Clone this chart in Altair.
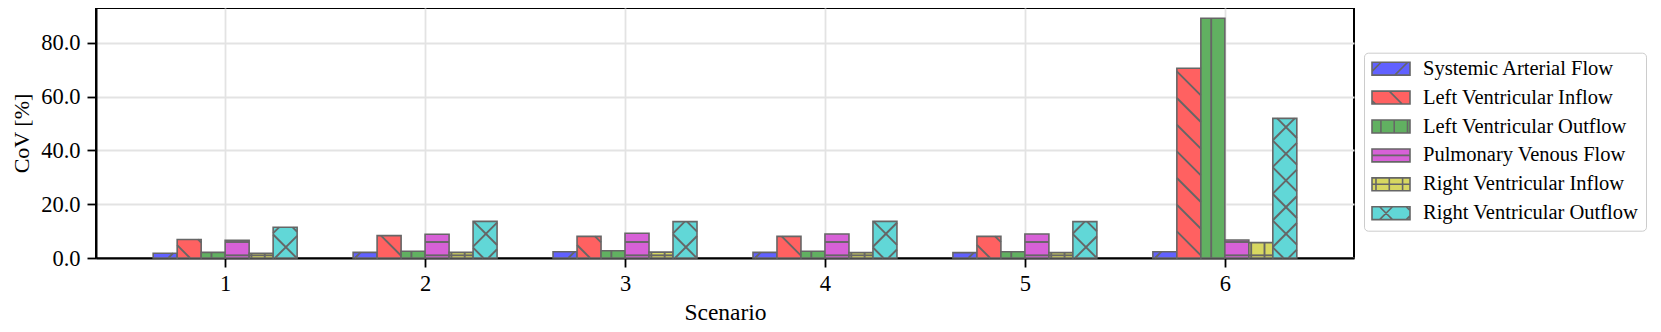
import altair as alt
import pandas as pd

# ---------------- data ----------------
scenarios = [1, 2, 3, 4, 5, 6]
series = [
    "Systemic Arterial Flow",
    "Left Ventricular Inflow",
    "Left Ventricular Outflow",
    "Pulmonary Venous Flow",
    "Right Ventricular Inflow",
    "Right Ventricular Outflow",
]
systemic_arterial_flow = [1.75, 2.1, 2.35, 2.1, 2.0, 2.35]
left_ventricular_inflow = [6.9, 8.3, 8.05, 8.05, 8.05, 70.5]
left_ventricular_outflow = [2.1, 2.5, 2.7, 2.5, 2.35, 89.1]
pulmonary_venous_flow = [6.6, 8.8, 9.2, 8.9, 8.9, 6.7]
right_ventricular_inflow = [1.75, 2.1, 2.2, 2.0, 2.0, 5.7]
right_ventricular_outflow = [11.4, 13.6, 13.5, 13.6, 13.5, 51.9]
y_ticks = [0, 20, 40, 60, 80]

# ---------------- styles ----------------
colors = ["#6161ff", "#ff6161", "#61b061", "#d761d7", "#d7d761", "#61d7d7"]
hatches = ["/", "\\", "|", "-", "+", "x"]
RECT = "M-1,-0.34L1,-0.34L1,0.34L-1,0.34Z"
legend_paths = [
    RECT + "M-1,0.14L-0.52,-0.34M0.2,0.34L0.88,-0.34",
    RECT + "M-1,0.15L-0.81,0.34M-0.09,-0.34L0.59,0.34",
    RECT + "M-0.53,-0.34L-0.53,0.34M0.17,-0.34L0.17,0.34M0.87,-0.34L0.87,0.34",
    RECT + "M-1,0L1,0",
    RECT + "M-0.79,-0.34L-0.79,0.34M-0.09,-0.34L-0.09,0.34M0.61,-0.34L0.61,0.34M-1,0L1,0",
    RECT + "M-0.6,0.34L0.08,-0.34M-0.6,-0.34L0.08,0.34M0.8,0.34L1,0.14M0.8,-0.34L1,-0.14",
]

all_values = [
    systemic_arterial_flow,
    left_ventricular_inflow,
    left_ventricular_outflow,
    pulmonary_venous_flow,
    right_ventricular_inflow,
    right_ventricular_outflow,
]
rows = []
for i, name in enumerate(series):
    for sc, v in zip(scenarios, all_values[i]):
        rows.append({"scenario": sc, "series": name, "idx": i, "value": v, "hatch": hatches[i]})
df = pd.DataFrame(rows)

# ---------------- layout constants ----------------
W, H = 1258, 250
X0, X1 = 0.354, 6.646
YMAX = 92.9
BW = 0.12
PX = W / (X1 - X0)
PY = H / YMAX
BWP = BW * PX
S = 26.67   # diagonal hatch period (px)
P = 13.33   # straight hatch period (px)
C_UP, C_DOWN, C_VERT, C_HORIZ = 7.7, 14.0, 8.8, 2.67

FONT = "Liberation Serif"
EDGE = "#666666"

xscale = alt.Scale(domain=[X0, X1], nice=False, zero=False)
yscale = alt.Scale(domain=[0, YMAX], nice=False, zero=False)

xaxis = alt.Axis(
    values=scenarios, format="d", title="Scenario",
    labelFont=FONT, labelFontSize=22.5, labelColor="black", labelPadding=5,
    tickSize=9, tickWidth=1.8, tickColor="black",
    domainColor="black", domainWidth=2,
    grid=True, gridColor="#e3e3e3", gridWidth=1.8,
    titleFont=FONT, titleFontSize=23.5, titleFontWeight="normal", titleColor="black",
    titleBaseline="alphabetic", titleY=61, titleX=W / 2,
)
yaxis = alt.Axis(
    values=y_ticks, format=".1f", title="CoV [%]",
    labelFont=FONT, labelFontSize=22.5, labelColor="black", labelPadding=7,
    tickSize=9, tickWidth=1.8, tickColor="black",
    domainColor="black", domainWidth=2,
    grid=True, gridColor="#e3e3e3", gridWidth=1.8,
    titleFont=FONT, titleFontSize=22, titleFontWeight="normal", titleColor="black",
    titleAngle=270, titleBaseline="alphabetic", titleAlign="center",
    titleX=-68, titleY=H / 2,
)

leg = alt.Legend(
    title=None, orient="none", legendX=1268, legendY=44.7,
    labelFont=FONT, labelFontSize=20.5, labelColor="black", labelLimit=400,
    symbolSize=1444, symbolStrokeWidth=1.6, symbolStrokeColor=EDGE,
    clipHeight=18, rowPadding=7.9, labelOffset=12,
    padding=7, strokeColor="#cccccc", cornerRadius=4, fillColor="white",
)

color = alt.Color("series:N", scale=alt.Scale(domain=series, range=colors), legend=leg, title=None)

base = alt.Chart(df).transform_calculate(
    xl=f"datum.scenario + (datum.idx - 3) * {BW}",
    xr=f"datum.scenario + (datum.idx - 2) * {BW}",
)

bars = base.mark_rect(stroke=EDGE, strokeWidth=1.6).encode(
    x=alt.X("xl:Q", scale=xscale, axis=xaxis),
    x2="xr:Q",
    y=alt.Y("value:Q", scale=yscale, axis=yaxis),
    y2=alt.datum(0),
    color=color,
)

hatch_layer = (
    base.transform_calculate(
        lx=f"(datum.xl - {X0}) * {PX}",
        h=f"datum.value * {PY}",
        kinds="datum.hatch == '/' ? ['up'] : datum.hatch == 'x' ? ['up', 'down'] : "
              "datum.hatch == '|' ? ['vert'] : datum.hatch == '-' ? ['horiz'] : "
              "datum.hatch == '+' ? ['vert', 'horiz'] : ['down']",
        ks="sequence(0, 16)",
    )
    .transform_flatten(["kinds"], as_=["kind"])
    .transform_flatten(["ks"], as_=["k"])
    .transform_calculate(
        d=f"datum.kind == 'up' ? ((datum.lx + {C_UP}) % {S} + {S}) % {S} + (datum.k - 2) * {S} : "
          f"datum.kind == 'down' ? (({C_DOWN} - datum.lx) % {S} + {S}) % {S} + (datum.k - 1) * {S} : "
          f"datum.kind == 'vert' ? (({C_VERT} - datum.lx) % {P} + {P}) % {P} + datum.k * {P} : "
          f"{C_HORIZ} + datum.k * {P}"
    )
    .transform_calculate(
        u1="datum.kind == 'up' ? max(0, -datum.d) : datum.kind == 'down' ? max(0, datum.d - datum.h) : "
           "datum.kind == 'vert' ? datum.d : 0",
        u2=f"datum.kind == 'up' ? min({BWP}, datum.h - datum.d) : datum.kind == 'down' ? min({BWP}, datum.d) : "
           f"datum.kind == 'vert' ? datum.d : {BWP}",
    )
    .transform_calculate(
        v1="datum.kind == 'up' ? datum.u1 + datum.d : datum.kind == 'down' ? datum.d - datum.u1 : "
           "datum.kind == 'vert' ? 0 : datum.d",
        v2="datum.kind == 'up' ? datum.u2 + datum.d : datum.kind == 'down' ? datum.d - datum.u2 : "
           "datum.kind == 'vert' ? datum.h : datum.d",
        ok=f"datum.kind == 'vert' ? (datum.d > 1 && datum.d < {BWP} - 1 && datum.h > 1) : "
           f"datum.kind == 'horiz' ? (datum.d > 1 && datum.d < datum.h - 1) : (datum.u2 - datum.u1 > 0.3)",
    )
    .transform_filter("datum.ok")
    .transform_calculate(
        hx1=f"datum.xl + datum.u1 / {PX}",
        hx2=f"datum.xl + datum.u2 / {PX}",
        hy1=f"datum.v1 / {PY}",
        hy2=f"datum.v2 / {PY}",
    )
    .mark_rule(color=EDGE, strokeWidth=1.9)
    .encode(
        x=alt.X("hx1:Q", scale=xscale, axis=xaxis),
        x2="hx2:Q",
        y=alt.Y("hy1:Q", scale=yscale, axis=yaxis),
        y2="hy2:Q",
    )
)

legend_layer = (
    alt.Chart(df)
    .transform_filter("false")
    .mark_point(filled=True, opacity=1, stroke=EDGE, strokeWidth=1.6)
    .encode(
        color=color,
        shape=alt.Shape("series:N", scale=alt.Scale(domain=series, range=legend_paths), legend=leg, title=None),
    )
)

chart = (
    alt.layer(bars, hatch_layer, legend_layer)
    .properties(
        width=W, height=H,
        padding={"left": 88, "top": 0, "right": 299, "bottom": 66},
        autosize=alt.AutoSizeParams(type="none"),
    )
    .configure_view(stroke="black", strokeWidth=2)
)

chart.save("out.html", embed_options={"renderer": "svg", "actions": False})
